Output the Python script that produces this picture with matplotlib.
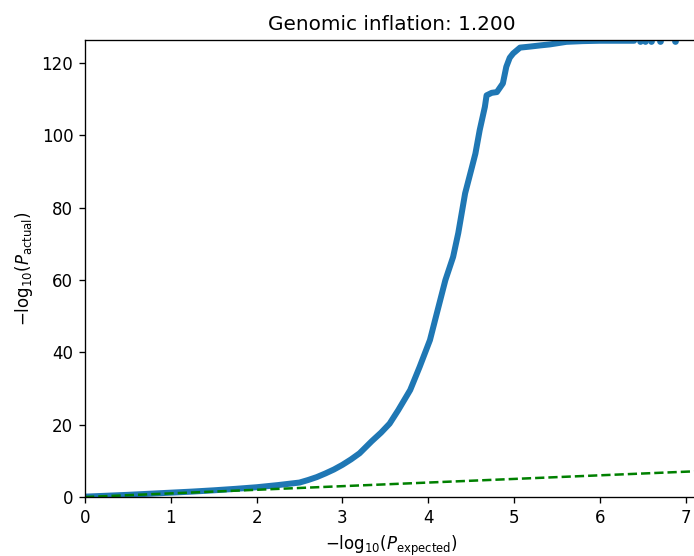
"""QQ plot of association p-values against the uniform expectation."""

import matplotlib
matplotlib.use("Agg")
import matplotlib.pyplot as plt

# Sorted -log10 p-values: expected (uniform) vs observed
expected = [0.0, 0.25, 0.5, 0.75, 1.0, 1.25, 1.5, 1.75, 2.0, 2.25, 2.5,
            2.6, 2.7, 2.8, 2.9, 3.0, 3.1, 3.2, 3.34, 3.45, 3.55, 3.65, 3.79, 3.9,
            4.02, 4.1, 4.2, 4.29, 4.35, 4.43, 4.51, 4.55, 4.6, 4.66, 4.68,
            4.74, 4.8, 4.87, 4.91, 4.95, 4.99, 5.07, 5.19, 5.3, 5.42, 5.61,
            5.8, 6.0, 6.2, 6.4]
observed = [0.1, 0.35, 0.6, 0.9, 1.2, 1.5, 1.85, 2.25, 2.7, 3.3, 4.0,
            4.7, 5.5, 6.5, 7.6, 8.9, 10.4, 12.1, 15.4, 17.8, 20.3, 24.0, 29.6, 36.0,
            43.4, 50.8, 60.0, 66.4, 73.0, 84.0, 91.3, 95.0, 101.5, 107.9, 111.1,
            111.8, 112.0, 114.4, 119.0, 121.5, 122.7, 124.3, 124.6, 124.9, 125.2, 125.9,
            126.1, 126.2, 126.2, 126.2]

# Last few hits are spread out along the top
tail_expected = [6.47, 6.53, 6.60, 6.70, 6.88]
tail_observed = [126.1, 126.1, 126.1, 126.1, 126.1]

null_line = [0.0, 7.2]
inflation = 1.2

fig = plt.figure(figsize=(694 / 120, 556 / 120), dpi=120)
ax = fig.add_axes([0.1225, 0.1061, 0.884, 0.8219])

ax.plot(expected, observed, "-", color="#1f77b4", lw=3.6,
        solid_capstyle="round", solid_joinstyle="round")
ax.plot(tail_expected, tail_observed, "o", color="#1f77b4", ms=3.0)
ax.plot(null_line, null_line, "g--")

ax.set_xlim(0, 7.15)
ax.set_ylim(0, 126.4)
ax.set_xticks(range(0, 8))
ax.set_title("Genomic inflation: {:.3f}".format(inflation))
ax.set_xlabel(r"$-\mathrm{log}_{10}(P_{\mathrm{expected}})$")
ax.set_ylabel(r"$-\mathrm{log}_{10}(P_{\mathrm{actual}})$")

fig.savefig("out.png", dpi=120)
